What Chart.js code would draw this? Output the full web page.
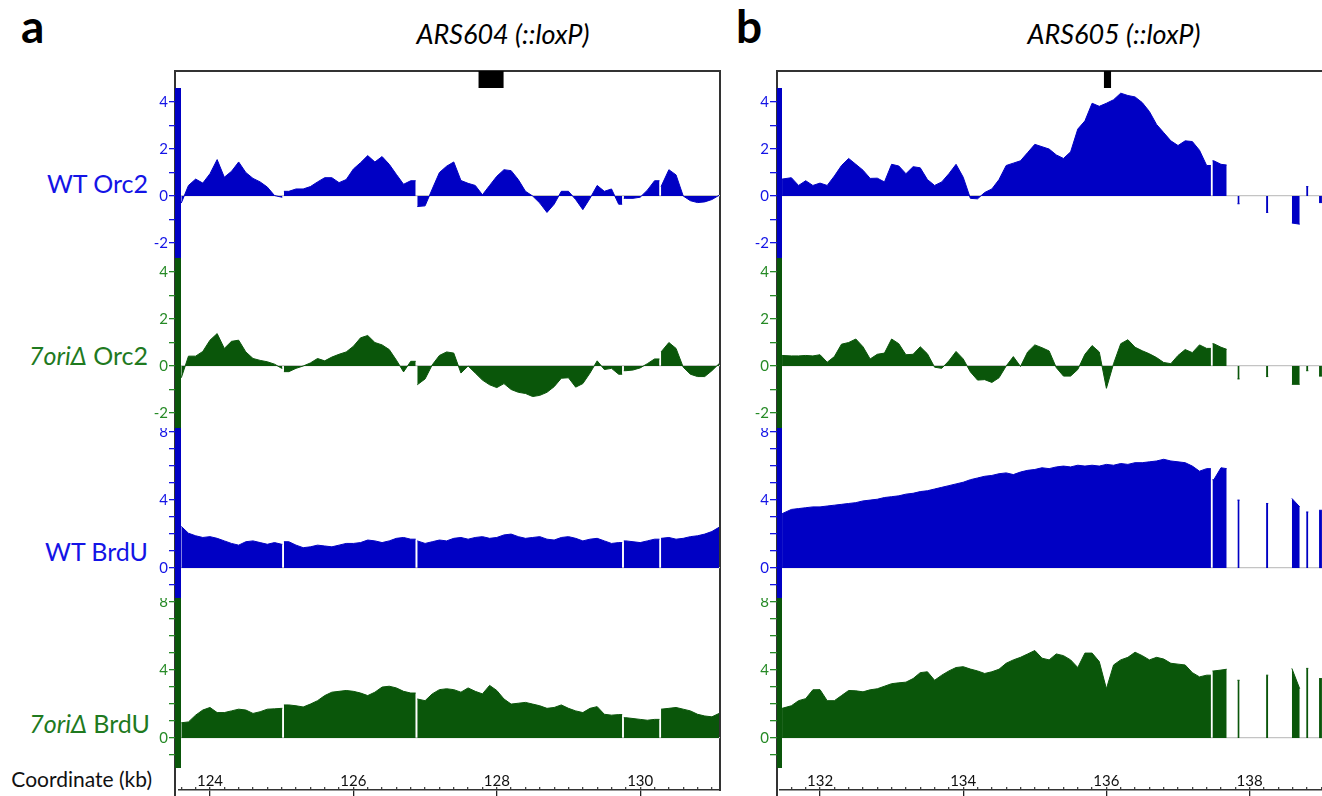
<!DOCTYPE html>
<html><head><meta charset="utf-8">
<script src="https://cdn.jsdelivr.net/npm/chart.js@4.4.0/dist/chart.umd.min.js"></script>
<style>
body{margin:0;background:#fff;width:1322px;height:796px;overflow:hidden;position:relative;font-family:Lato,'Open Sans',sans-serif;}
canvas{position:absolute;}
.ln{position:absolute;background:#333;}
.tx{position:absolute;white-space:nowrap;line-height:1;}
.lab{font-size:25px;text-align:right;}
</style></head><body>

<div class="ln" style="left:174px;top:70px;width:547px;height:1.5px"></div>
<div class="ln" style="left:174px;top:70px;width:1.5px;height:726px"></div>
<div class="ln" style="left:719px;top:70px;width:1.5px;height:721px"></div>
<div class="ln" style="left:776px;top:70px;width:546px;height:1.5px"></div>
<div class="ln" style="left:776px;top:70px;width:1.5px;height:726px"></div>

<div class="tx" style="left:21px;top:3px;font-size:46px;font-weight:700;color:#000">a</div>
<div class="tx" style="left:736px;top:3px;font-size:46px;font-weight:700;color:#000">b</div>
<div class="tx" style="left:0;width:1006px;text-align:center;top:20px;font-size:27px;font-style:italic;color:#000">ARS604 (::loxP)</div>
<div class="tx" style="left:0;width:2228px;text-align:center;top:20px;font-size:27px;font-style:italic;color:#000">ARS605 (::loxP)</div>

<div class="tx lab" style="right:1174px;top:171px;color:#1414e6">WT Orc2</div>
<div class="tx lab" style="right:1174px;top:343px;color:#1f7a1f"><i>7oriΔ</i> Orc2</div>
<div class="tx lab" style="right:1174px;top:539px;color:#1414e6">WT BrdU</div>
<div class="tx lab" style="right:1172px;top:711px;color:#1f7a1f"><i>7oriΔ</i> BrdU</div>
<div class="tx" style="right:1170px;top:768px;font-size:21px;color:#111">Coordinate (kb)</div>

<script>
// ---------- data ----------
const kbA = [123.6,123.7,123.8,123.9,124.0,124.1,124.2,124.3,124.4,124.5,124.6,124.7,124.8,124.9,125.0,125.1,125.2,125.3,125.4,125.5,125.6,125.7,125.8,125.9,126.0,126.1,126.2,126.3,126.4,126.5,126.6,126.7,126.8,126.9,127.0,127.1,127.2,127.3,127.4,127.5,127.6,127.7,127.8,127.9,128.0,128.1,128.2,128.3,128.4,128.5,128.6,128.7,128.8,128.9,129.0,129.1,129.2,129.3,129.4,129.5,129.6,129.7,129.8,129.9,130.0,130.1,130.2,130.3,130.4,130.5,130.6,130.7,130.8,130.9,131.0,131.1];
const gapsA = [125.02, 126.88, 129.76, 130.28];
const wtOrc2A = [-0.3,0.45,0.72,0.55,0.95,1.55,0.8,1.05,1.45,1.0,0.75,0.6,0.38,0.02,-0.05,0.2,0.3,0.3,0.4,0.6,0.78,0.78,0.57,0.7,1.15,1.42,1.72,1.45,1.68,1.35,0.92,0.5,0.65,-0.45,-0.42,0.3,1.0,1.27,1.45,0.66,0.54,0.45,0.05,0.45,0.84,1.12,1.08,0.7,0.2,0.0,-0.3,-0.7,-0.35,0.2,0.2,-0.15,-0.58,-0.1,0.45,0.2,0.3,-0.35,-0.1,-0.1,-0.05,0.25,0.65,0.4,1.12,0.9,0.0,-0.2,-0.28,-0.25,-0.15,0.03];
const oriOrc2A = [-0.5,0.42,0.42,0.62,1.1,1.38,0.75,1.05,1.1,0.6,0.32,0.24,0.18,0.08,-0.1,-0.24,-0.1,0.0,0.13,0.32,0.22,0.38,0.5,0.6,0.84,1.2,1.3,1.0,0.9,0.7,0.25,-0.25,0.2,-0.8,-0.55,0.05,0.45,0.6,0.55,-0.3,0.0,-0.3,-0.6,-0.8,-0.92,-0.75,-1.0,-1.12,-1.17,-1.3,-1.25,-1.12,-0.88,-0.52,-0.5,-0.9,-0.75,-0.3,0.22,-0.15,-0.1,-0.35,-0.2,-0.17,-0.08,0.1,0.3,0.6,1.0,0.75,-0.05,-0.35,-0.45,-0.45,-0.2,0.1];
const wtBrduA = [2.45,2.05,1.9,1.8,1.85,1.75,1.6,1.45,1.35,1.55,1.6,1.5,1.4,1.5,1.4,1.55,1.35,1.2,1.25,1.35,1.3,1.25,1.35,1.45,1.45,1.5,1.65,1.6,1.5,1.6,1.75,1.8,1.7,1.6,1.45,1.55,1.65,1.6,1.75,1.8,1.7,1.8,1.85,1.75,1.8,1.95,2.0,1.85,1.75,1.8,1.85,1.7,1.65,1.8,1.85,1.75,1.6,1.7,1.75,1.6,1.45,1.5,1.6,1.55,1.5,1.6,1.7,1.75,1.8,1.7,1.75,1.85,1.9,2.0,2.15,2.4];
const oriBrduA = [0.9,0.95,1.35,1.65,1.8,1.5,1.5,1.6,1.7,1.65,1.45,1.55,1.7,1.72,1.75,1.95,1.9,1.83,2.0,2.2,2.5,2.7,2.75,2.8,2.75,2.65,2.5,2.7,3.0,3.05,2.95,2.75,2.65,2.3,2.2,2.6,2.85,2.9,2.85,2.7,2.95,2.75,2.6,3.1,2.8,2.3,2.0,2.05,2.1,2.0,1.9,1.75,1.8,1.95,1.75,1.6,1.5,1.75,1.85,1.4,1.35,1.38,1.2,1.15,1.1,1.05,1.1,1.7,1.75,1.8,1.7,1.6,1.4,1.3,1.25,1.45];

const kbB = [131.47,131.6,131.7,131.8,131.9,132.0,132.1,132.2,132.3,132.4,132.5,132.6,132.7,132.8,132.9,133.0,133.1,133.2,133.3,133.4,133.5,133.6,133.7,133.8,133.9,134.0,134.1,134.2,134.3,134.4,134.5,134.6,134.7,134.8,134.9,135.0,135.1,135.2,135.3,135.4,135.5,135.6,135.7,135.8,135.9,136.0,136.1,136.2,136.3,136.4,136.5,136.6,136.7,136.8,136.9,137.0,137.1,137.2,137.3,137.4,137.5,137.6,137.68];
const gapsB = [137.47];
const wtOrc2B = [0.72,0.78,0.45,0.65,0.45,0.55,0.45,0.85,1.3,1.6,1.35,1.1,0.75,0.76,0.6,1.35,1.28,0.95,1.25,1.2,0.7,0.45,0.6,0.95,1.35,0.8,-0.1,-0.12,0.15,0.3,0.7,1.3,1.4,1.5,1.85,2.2,2.1,2.0,1.75,1.6,1.88,2.85,3.2,3.95,3.82,3.95,4.1,4.38,4.28,4.22,3.98,3.6,3.05,2.7,2.35,2.15,2.35,2.32,1.95,1.3,1.5,1.35,1.32];
const oriOrc2B = [0.45,0.43,0.43,0.45,0.43,0.48,0.16,0.4,0.93,1.0,1.15,0.82,0.3,0.5,0.55,1.15,0.95,0.48,0.5,0.82,0.52,-0.05,-0.1,0.22,0.62,0.3,-0.25,-0.6,-0.58,-0.7,-0.5,0.0,0.4,-0.02,0.6,0.9,0.78,0.64,-0.07,-0.43,-0.43,-0.15,0.5,0.87,0.6,-0.95,0.1,0.95,1.12,0.8,0.65,0.52,0.36,0.15,0.1,0.45,0.7,0.57,0.9,0.75,0.95,0.8,0.71];
const wtBrduB = [3.2,3.45,3.5,3.55,3.6,3.6,3.65,3.7,3.75,3.8,3.85,3.95,4.0,4.05,4.15,4.2,4.25,4.35,4.4,4.5,4.55,4.65,4.75,4.85,4.95,5.05,5.2,5.3,5.4,5.45,5.55,5.6,5.5,5.65,5.75,5.8,5.9,5.85,5.95,6.0,5.95,6.05,6.0,6.05,6.0,6.1,6.05,6.15,6.1,6.2,6.2,6.25,6.3,6.4,6.3,6.25,6.2,6.0,5.7,5.85,5.2,5.9,5.85];
const oriBrduB = [1.75,1.9,2.2,2.32,2.84,2.85,2.2,2.2,2.5,2.8,2.78,2.72,2.84,2.9,3.05,3.2,3.25,3.29,3.5,3.85,3.9,3.4,3.7,3.95,4.15,4.2,4.06,3.95,3.8,3.9,4.05,4.4,4.6,4.75,4.95,5.15,4.7,4.6,4.95,4.85,4.6,4.15,5.0,5.0,4.5,2.9,4.3,4.6,4.75,5.05,4.85,4.6,4.75,4.65,4.4,4.35,4.3,3.85,3.6,3.7,3.95,4.0,4.05];

// isolated bins past the end of the continuous panel-b data
const sparseStartB = [137.83, 138.23, 138.59, 138.79, 138.97];
const sparseEndB   = [137.86, 138.26, 138.70, 138.82, 139.01];
const wtOrc2SparseB  = [[-0.33,-0.33],[-0.7,-0.7],[-1.15,-1.2],[0.4,0.4],[-0.28,-0.28]];
const oriOrc2SparseB = [[-0.55,-0.55],[-0.45,-0.45],[-0.78,-0.78],[-0.2,-0.2],[-0.43,-0.43]];
const wtBrduSparseB  = [[4.0,4.0],[3.8,3.8],[4.1,3.6],[3.3,3.3],[3.4,3.4]];
const oriBrduSparseB = [[3.4,3.4],[3.7,3.7],[4.1,2.9],[4.1,4.1],[3.5,3.5]];

// ARS features (kb)
const featureA = [127.75, 128.09];
const featureB = [135.97, 136.06];

// tick labels
const orcTicks = [-2,-1,0,1,2,3,4];
const orcLabels = [-2,0,2,4];
const brduTicks = [-1,0,1,2,3,4,5,6,7,8];
const brduLabels = [0,4,8];
const coordLabelsA = [124,126,128,130];
const coordLabelsB = [132,134,136,138];

// ---------- layout / style ----------
const BLUE = '#0000c4', GREEN = '#0a560a';
const BLUE_T = '#1414e6', GREEN_T = '#268a26';
const ZERO = '#c4c4c4';
const AX_W = 48;
const panels = {
  A: {plotLeft:178, plotRight:720, xmin:123.554, xmax:131.113, bar:6},
  B: {plotLeft:779, plotRight:1322, xmin:131.427, xmax:139.011, bar:5}
};
const tracks = [
  {top:88,  h:170, ymin:-2.64, ymax:4.6,  ticks:orcTicks,  labels:orcLabels,  col:BLUE,  tcol:BLUE_T},
  {top:258, h:170, ymin:-2.64, ymax:4.6,  ticks:orcTicks,  labels:orcLabels,  col:GREEN, tcol:GREEN_T},
  {top:428, h:170, ymin:-1.76, ymax:8.24, ticks:brduTicks, labels:brduLabels, col:BLUE,  tcol:BLUE_T},
  {top:598, h:170, ymin:-1.76, ymax:8.24, ticks:brduTicks, labels:brduLabels, col:GREEN, tcol:GREEN_T}
];

function mkCanvas(left, top, w, h) {
  const c = document.createElement('canvas');
  c.width = w; c.height = h;
  c.style.left = left + 'px'; c.style.top = top + 'px';
  c.style.width = w + 'px'; c.style.height = h + 'px';
  document.body.appendChild(c);
  return c;
}

// continuous bins, with one-bin coverage gaps (kept strictly increasing in x)
function buildPoints(kbs, vals, gaps, sStart, sEnd, sVals) {
  const pts = [], d = 0.011;
  for (let i = 0; i < kbs.length; i++) {
    if (i > 0) {
      gaps.forEach(g => {
        if (g > kbs[i-1] && g < kbs[i]) {
          if (g - d > kbs[i-1]) pts.push({x: g - d, y: vals[i-1]});
          pts.push({x: g, y: null});
          if (g + d < kbs[i]) pts.push({x: g + d, y: vals[i]});
        }
      });
    }
    pts.push({x: kbs[i], y: vals[i]});
  }
  if (sStart) {
    sStart.forEach((s, j) => {
      pts.push({x: s - 0.002, y: null});
      pts.push({x: s, y: sVals[j][0]});
      pts.push({x: sEnd[j], y: sVals[j][1]});
    });
  }
  return pts;
}

const baseOpts = {responsive:false, animation:false, devicePixelRatio:1, layout:{padding:0},
  plugins:{legend:{display:false}, tooltip:{enabled:false}}};

function trackChart(p, t, points) {
  const left = p.plotLeft - AX_W;
  const cv = mkCanvas(left, t.top, p.plotRight - left, t.h);
  new Chart(cv, {
    type:'line',
    data:{datasets:[{data:points, borderColor:t.col, backgroundColor:t.col, borderWidth:1,
      pointRadius:0, fill:'origin', tension:0, spanGaps:false}]},
    options:Object.assign({}, baseOpts, {
      scales:{
        x:{type:'linear', min:p.xmin, max:p.xmax, display:false},
        y:{type:'linear', position:'left', min:t.ymin, max:t.ymax, z:1,
          afterFit(s){ s.width = AX_W; s.paddingTop = 0; s.paddingBottom = 0; },
          afterBuildTicks(s){ s.ticks = t.ticks.map(v => ({value:v})); },
          ticks:{color:t.tcol, font:{family:'Lato', size:15}, padding:1, autoSkip:false,
            callback:(v) => t.labels.includes(v) ? String(v) : ''},
          grid:{drawOnChartArea:true, tickLength:9, tickColor:t.tcol, tickWidth:1.3, lineWidth:1.3,
            color:(c) => (c.tick && c.tick.value === 0) ? ZERO : 'rgba(0,0,0,0)'},
          border:{display:true, color:t.col, width:p.bar}
        }
      }
    })
  });
}

function featureChart(p, feat) {
  const cv = mkCanvas(p.plotLeft, 71, p.plotRight - p.plotLeft, 17);
  new Chart(cv, {
    type:'bar',
    data:{labels:['ARS'], datasets:[{data:[feat], backgroundColor:'#000', borderWidth:0,
      barPercentage:1, categoryPercentage:1}]},
    options:Object.assign({}, baseOpts, {indexAxis:'y',
      scales:{x:{type:'linear', min:p.xmin, max:p.xmax, display:false}, y:{display:false}}})
  });
}

function coordChart(p, labels) {
  const cv = mkCanvas(p.plotLeft, 762, p.plotRight - p.plotLeft, 34);
  const lo = Math.ceil(p.xmin * 5), hi = Math.floor(p.xmax * 5);
  new Chart(cv, {
    type:'line',
    data:{datasets:[{data:[]}]},
    options:Object.assign({}, baseOpts, {
      scales:{
        x:{type:'linear', position:'top', min:p.xmin, max:p.xmax,
          afterFit(s){ s.height = 28; s.paddingLeft = 0; s.paddingRight = 0; },
          afterBuildTicks(s){ const a = []; for (let k = lo; k <= hi; k++) a.push({value:k/5}); s.ticks = a; },
          ticks:{color:'#111', font:{family:'Lato', size:15}, padding:-3, autoSkip:false, maxRotation:0,
            callback:(v) => labels.includes(Math.round(v*100)/100) ? String(Math.round(v)) : ''},
          grid:{drawOnChartArea:true, tickLength:3, tickColor:'#444', lineWidth:1.3,
            color:(c) => (c.tick && labels.includes(Math.round(c.tick.value*100)/100)) ? '#222' : 'rgba(0,0,0,0)'},
          border:{display:true, color:'#333', width:1.5}
        },
        y:{display:false}
      }
    })
  });
}

const seriesA = [wtOrc2A, oriOrc2A, wtBrduA, oriBrduA];
const seriesB = [wtOrc2B, oriOrc2B, wtBrduB, oriBrduB];
const sparseB = [wtOrc2SparseB, oriOrc2SparseB, wtBrduSparseB, oriBrduSparseB];

tracks.forEach((t, i) => {
  trackChart(panels.A, t, buildPoints(kbA, seriesA[i], gapsA));
  trackChart(panels.B, t, buildPoints(kbB, seriesB[i], gapsB, sparseStartB, sparseEndB, sparseB[i]));
});
featureChart(panels.A, featureA);
featureChart(panels.B, featureB);
coordChart(panels.A, coordLabelsA);
coordChart(panels.B, coordLabelsB);
</script>
</body></html>
